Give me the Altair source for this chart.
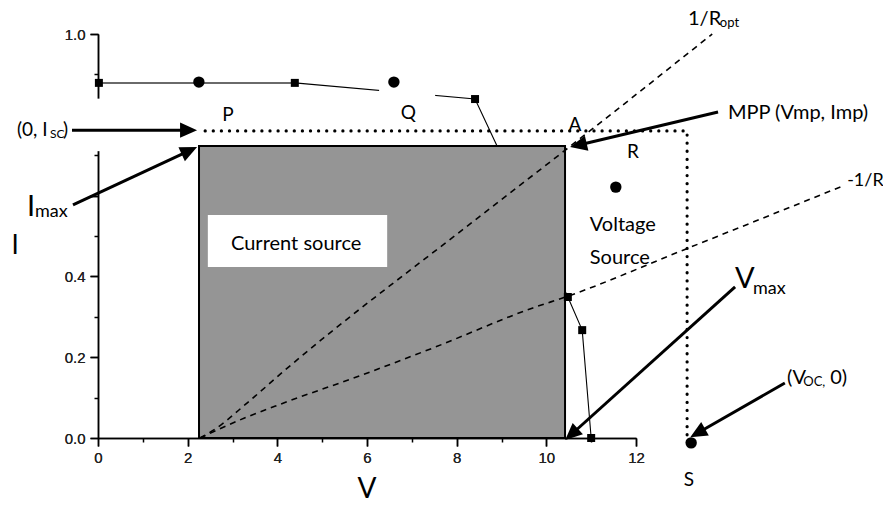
import math
import altair as alt
import pandas as pd

# ---------------- data ----------------
x_major = [0, 2, 4, 6, 8, 10, 12]
x_minor = [1, 3, 5, 7, 9, 11]
y_major = [0.0, 0.2, 0.4, 0.6, 0.8, 1.0]
y_minor = [0.1, 0.3, 0.5, 0.7, 0.9]
y_labelled = [0.0, 0.2, 0.4, 1.0]

# measured I-V curve (square markers)
iv_v = [0.02, 4.39, 8.41, 10.48, 10.80, 11.0]
iv_i = [0.879, 0.879, 0.839, 0.349, 0.267, 0.0]

# operating points (circles) and their letters
pt_v = [2.25, 6.60, 11.55, 13.23]
pt_i = [0.881, 0.881, 0.621, -0.012]
lab_txt = ["P", "Q", "R", "S", "A"]
lab_v = [2.90, 6.92, 11.93, 13.18, 10.64]
lab_i = [0.800, 0.804, 0.708, -0.104, 0.775]

# current-source region
rect_v = [2.253, 10.417]
rect_i = [0.0, 0.723]

# ideal (dotted) boundary
ideal_v = [2.39, 13.14, 13.14]
ideal_i = [0.760, 0.760, 0.007]

# load lines (dashed)
ropt_v = [2.275, 2.61, 3.35, 4.17, 8.30, 10.37, 10.97, 13.70]
ropt_i = [0.0, 0.022, 0.089, 0.168, 0.530, 0.708, 0.760, 1.0]
r_v = [2.275, 3.28, 4.10, 5.89, 7.52, 9.70, 10.48, 13.05, 16.62]
r_i = [0.0, 0.050, 0.085, 0.156, 0.225, 0.322, 0.351, 0.465, 0.624]

# annotation arrows: tail -> head
arrow_tail_v = [-0.58, -0.558, 13.83, 14.21, 15.32]
arrow_tail_i = [0.762, 0.577, 0.807, 0.374, 0.136]
arrow_head_v = [2.21, 2.21, 10.53, 10.42, 13.21]
arrow_head_i = [0.762, 0.720, 0.720, -0.005, 0.002]

# left-aligned annotation texts
ltxt = ["(0, I", "SC", ")", "I", "max", "V", "max", "(V", "OC,", "0)",
        "MPP (Vmp, Imp)", "1/R", "opt", "-1/R", "Voltage", "Source"]
ltxt_v = [-1.807, -1.07, -0.78, -1.584, -1.405, 14.21, 14.61, 15.37, 15.73, 16.33,
          14.05, 13.16, 13.87, 16.71, 10.97, 10.97]
ltxt_i = [0.762, 0.752, 0.762, 0.572, 0.559, 0.394, 0.369, 0.149, 0.139, 0.149,
          0.804, 1.036, 1.026, 0.636, 0.527, 0.446]
ltxt_fs = [19, 12, 19, 29, 18, 29, 18, 20, 13, 20, 20, 20, 13, 18, 20, 20]

# centred texts
ctxt = ["Current source", "I", "V"]
ctxt_v = [4.42, -1.85, 6.0]
ctxt_i = [0.480, 0.475, -0.129]
ctxt_fs = [20, 26, 28]

# white label box
box_v = [2.45, 6.45]
box_i = [0.423, 0.552]

# ---------------- geometry ----------------
W, H = 538, 404
PX_V = W / 12.0
PX_I = H / 1.0

xs = alt.Scale(domain=[0, 12], nice=False, zero=False)
ys = alt.Scale(domain=[0, 1], nice=False, zero=False)


def X(f="v"):
    return alt.X(f"{f}:Q", scale=xs, axis=None)


def Y(f="i"):
    return alt.Y(f"{f}:Q", scale=ys, axis=None)


lab_expr = " || ".join(f"abs(datum.value - {v}) < 0.001" for v in y_labelled)

ax_common = dict(grid=False, tickColor="black", tickWidth=1.5, domainColor="black",
                 domainWidth=1.5, labelFont="Liberation Sans", labelFontSize=15,
                 labelColor="#222", labelFlush=False, labelOverlap=False, title=None)

rect_df = pd.DataFrame({"v": [rect_v[0]], "v2": [rect_v[1]], "i": [rect_i[0]], "i2": [rect_i[1]]})
main_rect = alt.Chart(rect_df).mark_rect(fill="#959595", stroke="black", strokeWidth=2).encode(
    x=alt.X("v:Q", scale=xs, axis=alt.Axis(values=x_major, orient="bottom", tickSize=8,
                                           labelPadding=4, format="d", **ax_common)),
    x2="v2:Q",
    y=alt.Y("i:Q", scale=ys, axis=alt.Axis(values=y_major, orient="left", tickSize=8,
                                           labelPadding=5, format=".1f",
                                           labelExpr=f"({lab_expr}) ? format(datum.value, '.1f') : ''",
                                           **ax_common)),
    y2="i2:Q",
)

minor_df = pd.DataFrame({"v": [0.0], "i": [0.0]})
minor_axes = alt.Chart(minor_df).mark_point(opacity=0).encode(
    x=alt.X("v:Q", scale=xs, axis=alt.Axis(values=x_minor, orient="bottom", tickSize=4,
                                           labels=False, domain=False, grid=False,
                                           tickColor="black", tickWidth=1.5, title=None)),
    y=alt.Y("i:Q", scale=ys, axis=alt.Axis(values=y_minor, orient="left", tickSize=4,
                                           labels=False, domain=False, grid=False,
                                           tickColor="black", tickWidth=1.5, title=None)),
)

# white gap in the y axis
gap_df = pd.DataFrame({"v": [-0.25], "v2": [0.08], "i": [0.71], "i2": [0.84]})
gap = alt.Chart(gap_df).mark_rect(fill="white").encode(x=X(), x2="v2:Q", y=Y(), y2="i2:Q")

# I-V curve lines
seg1 = pd.DataFrame({"v": iv_v[:2], "i": iv_i[:2], "o": [0, 1]})
seg2 = pd.DataFrame({"v": iv_v[1:], "i": iv_i[1:], "o": list(range(len(iv_v) - 1))})
line1 = alt.Chart(seg1).mark_line(color="#6a6a6a", strokeWidth=2).encode(x=X(), y=Y(), order="o:Q")
line2 = alt.Chart(seg2).mark_line(color="black", strokeWidth=1.1).encode(x=X(), y=Y(), order="o:Q")

qgap_df = pd.DataFrame({"v": [6.27], "v2": [7.52], "i": [0.837], "i2": [0.871]})
qgap = alt.Chart(qgap_df).mark_rect(fill="white").encode(x=X(), x2="v2:Q", y=Y(), y2="i2:Q")

box_df = pd.DataFrame({"v": [box_v[0]], "v2": [box_v[1]], "i": [box_i[0]], "i2": [box_i[1]]})
box = alt.Chart(box_df).mark_rect(fill="white").encode(x=X(), x2="v2:Q", y=Y(), y2="i2:Q")

dash_df = pd.concat([
    pd.DataFrame({"v": ropt_v, "i": ropt_i, "c": "ropt", "o": range(len(ropt_v))}),
    pd.DataFrame({"v": r_v, "i": r_i, "c": "r", "o": range(len(r_v))}),
])
dashed = alt.Chart(dash_df).mark_line(color="black", strokeWidth=1.6, strokeDash=[6, 5],
                                      interpolate="monotone").encode(
    x=X(), y=Y(), detail="c:N", order="o:Q")

ideal_df = pd.DataFrame({"v": ideal_v, "i": ideal_i, "o": range(len(ideal_v))})
dotted = alt.Chart(ideal_df).mark_line(color="black", strokeWidth=3.2, strokeDash=[0.1, 8],
                                       strokeCap="round").encode(x=X(), y=Y(), order="o:Q")

sq_df = pd.DataFrame({"v": iv_v, "i": iv_i})
squares = alt.Chart(sq_df).mark_point(shape="square", filled=True, color="black", size=64,
                                      opacity=1).encode(x=X(), y=Y())
pt_df = pd.DataFrame({"v": pt_v, "i": pt_i})
circles = alt.Chart(pt_df).mark_point(shape="circle", filled=True, color="black", size=130,
                                      opacity=1).encode(x=X(), y=Y())

# arrows
rows = []
for tv, ti, hv, hi in zip(arrow_tail_v, arrow_tail_i, arrow_head_v, arrow_head_i):
    dx = (hv - tv) * PX_V
    dy = -(hi - ti) * PX_I
    a = math.atan2(dy, dx)
    ev = hv - 9 * math.cos(a) / PX_V
    ei = hi + 9 * math.sin(a) / PX_I
    rows.append({"v": tv, "i": ti, "v2": ev, "i2": ei, "hv": hv, "hi": hi,
                 "ang": math.degrees(a) % 360})
arr_df = pd.DataFrame(rows)
shafts = alt.Chart(arr_df).mark_rule(color="black", strokeWidth=3).encode(
    x=X(), y=Y(), x2="v2:Q", y2="i2:Q")
heads = alt.Chart(arr_df).mark_point(shape="M0,0L-2,-0.9L-2,0.9Z", filled=True, color="black",
                                     size=289, opacity=1, strokeWidth=0).encode(
    x=X("hv"), y=Y("hi"), angle=alt.Angle("ang:Q", scale=None))

lab_df = pd.DataFrame({"v": lab_v, "i": lab_i, "t": lab_txt})
letters = alt.Chart(lab_df).mark_text(font="Lato", fontSize=19, color="black", align="center",
                                      baseline="middle").encode(x=X(), y=Y(), text="t:N")

lt_df = pd.DataFrame({"v": ltxt_v, "i": ltxt_i, "t": ltxt, "fs": ltxt_fs})
ltexts = alt.Chart(lt_df).mark_text(font="Lato", color="black", align="left",
                                    baseline="middle").encode(
    x=X(), y=Y(), text="t:N", size=alt.Size("fs:Q", scale=None))

ct_df = pd.DataFrame({"v": ctxt_v, "i": ctxt_i, "t": ctxt, "fs": ctxt_fs})
ctexts = alt.Chart(ct_df).mark_text(font="Lato", color="black", align="center",
                                    baseline="middle").encode(
    x=X(), y=Y(), text="t:N", size=alt.Size("fs:Q", scale=None))

chart = alt.layer(
    minor_axes, main_rect.mark_rect(opacity=0), gap, line1, line2, qgap, main_rect, box,
    dashed, dotted, squares, circles, shafts, heads, letters, ltexts, ctexts,
).resolve_axis(x="independent", y="independent").properties(
    width=W, height=H,
    autosize=alt.AutoSizeParams(type="none"),
    padding={"left": 90, "top": 26, "right": 247, "bottom": 64},
    background="white",
).configure_view(strokeWidth=0)

chart.save("out.html", embed_options={"renderer": "svg", "actions": False})
